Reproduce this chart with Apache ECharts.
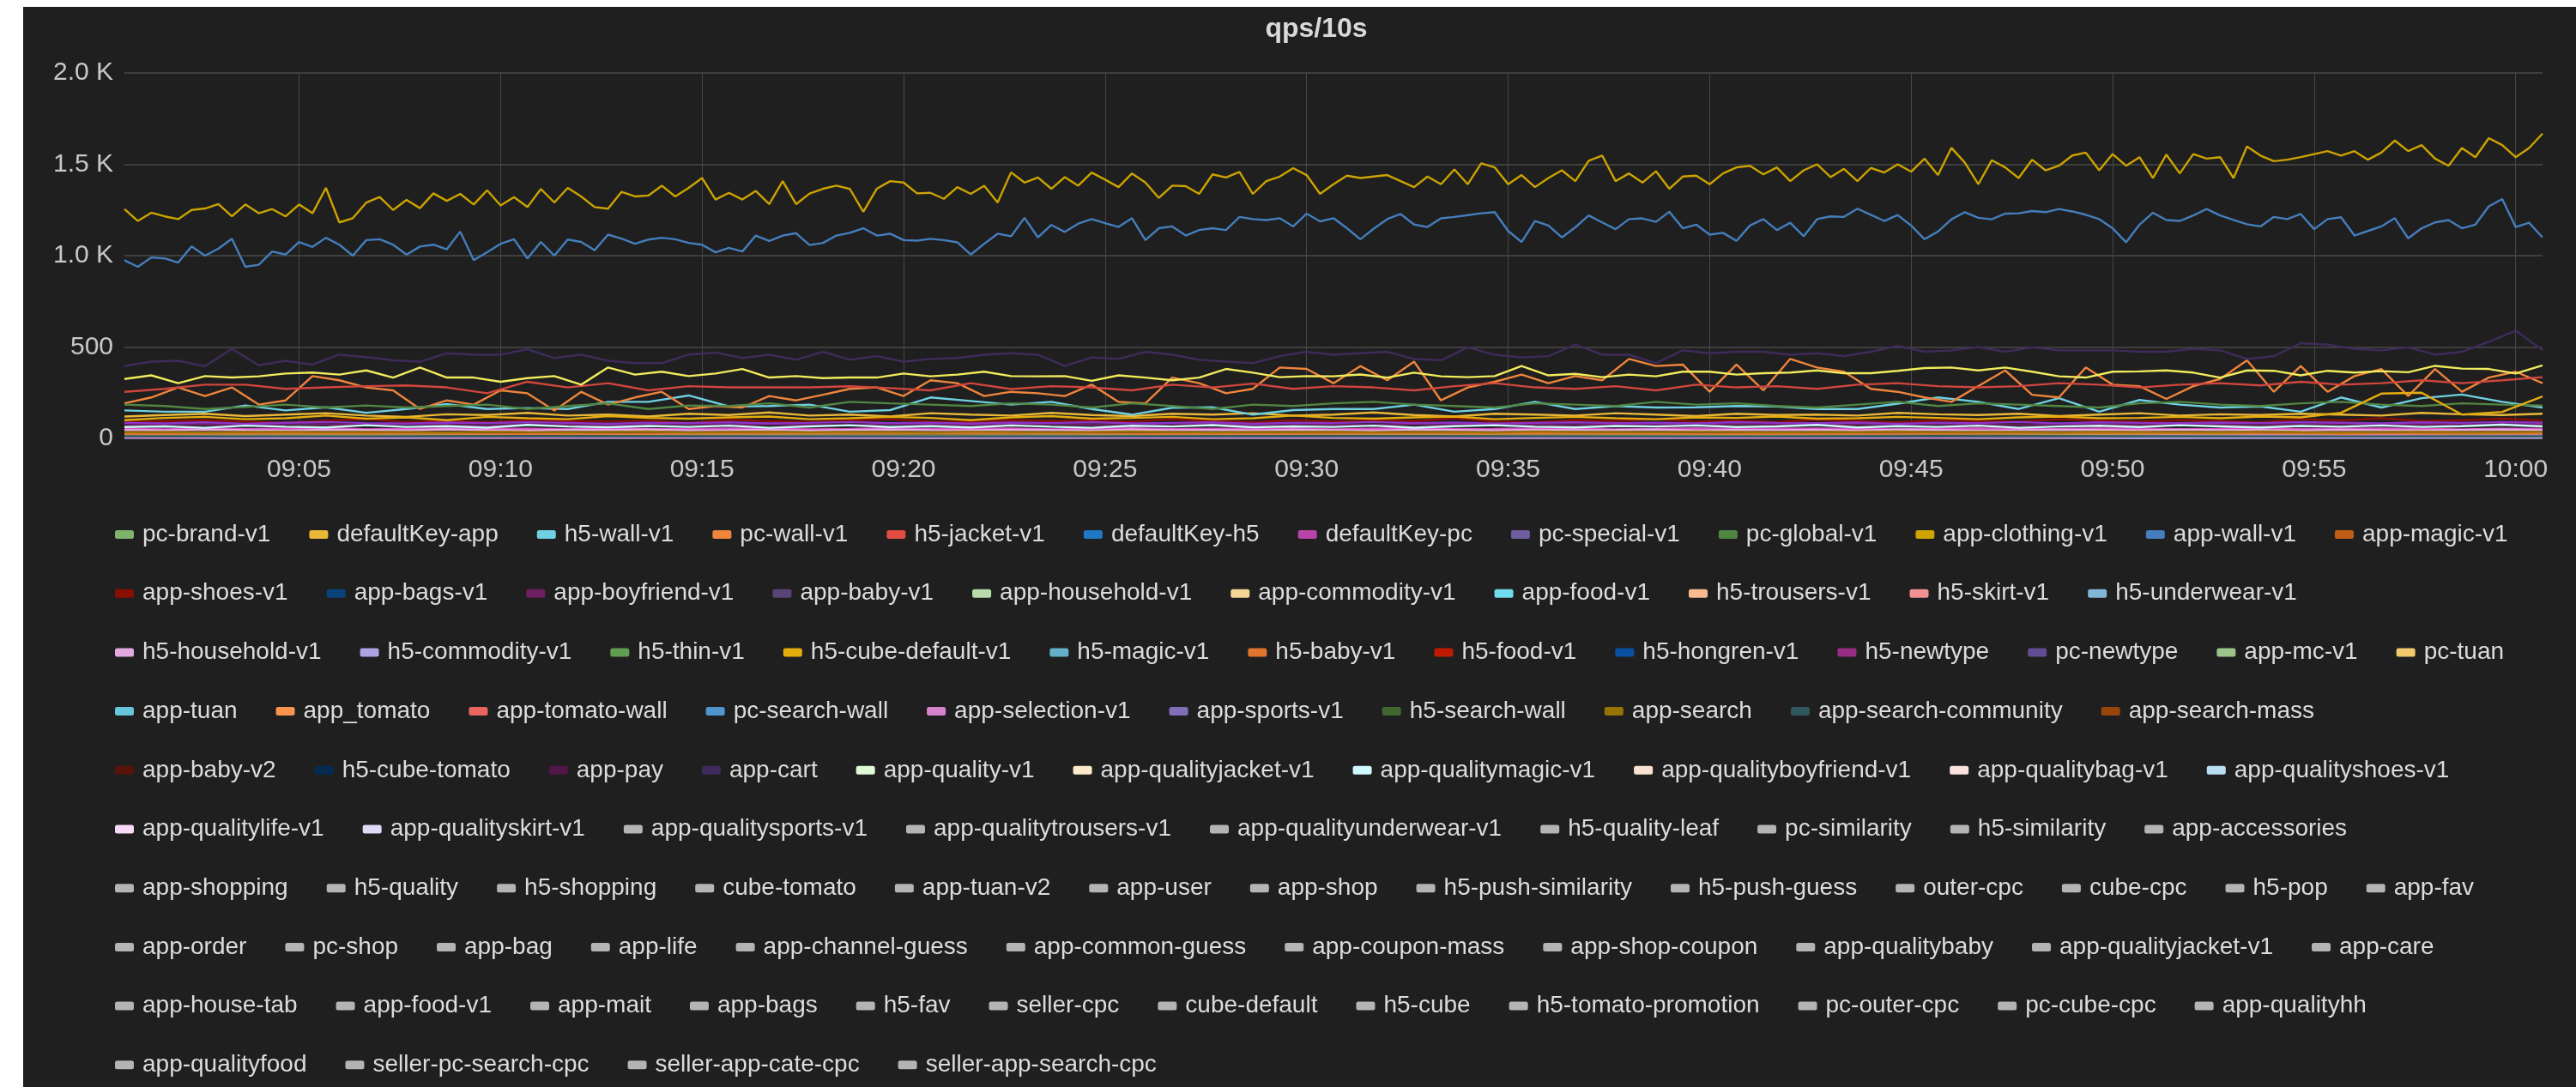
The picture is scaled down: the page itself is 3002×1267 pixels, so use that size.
<!DOCTYPE html>
<html>
<head>
<meta charset="utf-8">
<title>qps/10s</title>
<script src="https://cdn.jsdelivr.net/npm/echarts@6/dist/echarts.min.js"></script>
<style>
  html, body { margin: 0; padding: 0; background: #ffffff; }
  #chart { width: 3002px; height: 1267px; }
</style>
</head>
<body>
<div id="chart"></div>
<script>
// time grid: one category every 20s, 09:00:40 .. 10:00:40
const startSec = 9 * 3600 + 40;
const stepSec = 20;
const pointCount = 181;
const times = [];
for (let i = 0; i < pointCount; i++) {
  const s = startSec + i * stepSec;
  const hh = String(Math.floor(s / 3600)).padStart(2, '0');
  const mm = String(Math.floor((s % 3600) / 60)).padStart(2, '0');
  const ss = String(s % 60).padStart(2, '0');
  times.push(`${hh}:${mm}:${ss}`);
}
const tickLabels = ['09:05', '09:10', '09:15', '09:20', '09:25', '09:30',
  '09:35', '09:40', '09:45', '09:50', '09:55', '10:00'];

// grafana palette, in legend order
const palette = [
  '#7EB26D', '#EAB839', '#6ED0E0', '#EF843C', '#E24D42', '#1F78C1', '#BA43A9', '#705DA0',
  '#508642', '#CCA300', '#447EBC', '#C15C17', '#890F02', '#0A437C', '#6D1F62', '#584477',
  '#B7DBAB', '#F4D598', '#70DBED', '#F9BA8F', '#F29191', '#82B5D8', '#E5A8E2', '#AEA2E0',
  '#629E51', '#E5AC0E', '#64B0C8', '#E0752D', '#BF1B00', '#0A50A1', '#962D82', '#614D93',
  '#9AC48A', '#F2C96D', '#65C5DB', '#F9934E', '#EA6460', '#5195CE', '#D683CE', '#806EB7',
  '#3F6833', '#967302', '#2F575E', '#99440A', '#58140C', '#052B51', '#511749', '#3F2B5B',
  '#E0F9D7', '#FCEACA', '#CFFAFF', '#F9E2D2', '#FCE2DE', '#BADFF4', '#F9D9F9', '#DEDAF7'
];
const greyIcon = '#b4b4b4';

const legendRows = [
  ['pc-brand-v1', 'defaultKey-app', 'h5-wall-v1', 'pc-wall-v1', 'h5-jacket-v1', 'defaultKey-h5', 'defaultKey-pc', 'pc-special-v1', 'pc-global-v1', 'app-clothing-v1', 'app-wall-v1', 'app-magic-v1'],
  ['app-shoes-v1', 'app-bags-v1', 'app-boyfriend-v1', 'app-baby-v1', 'app-household-v1', 'app-commodity-v1', 'app-food-v1', 'h5-trousers-v1', 'h5-skirt-v1', 'h5-underwear-v1'],
  ['h5-household-v1', 'h5-commodity-v1', 'h5-thin-v1', 'h5-cube-default-v1', 'h5-magic-v1', 'h5-baby-v1', 'h5-food-v1', 'h5-hongren-v1', 'h5-newtype', 'pc-newtype', 'app-mc-v1', 'pc-tuan'],
  ['app-tuan', 'app_tomato', 'app-tomato-wall', 'pc-search-wall', 'app-selection-v1', 'app-sports-v1', 'h5-search-wall', 'app-search', 'app-search-community', 'app-search-mass'],
  ['app-baby-v2', 'h5-cube-tomato', 'app-pay', 'app-cart', 'app-quality-v1', 'app-qualityjacket-v1', 'app-qualitymagic-v1', 'app-qualityboyfriend-v1', 'app-qualitybag-v1', 'app-qualityshoes-v1'],
  ['app-qualitylife-v1', 'app-qualityskirt-v1', 'app-qualitysports-v1', 'app-qualitytrousers-v1', 'app-qualityunderwear-v1', 'h5-quality-leaf', 'pc-similarity', 'h5-similarity', 'app-accessories'],
  ['app-shopping', 'h5-quality', 'h5-shopping', 'cube-tomato', 'app-tuan-v2', 'app-user', 'app-shop', 'h5-push-similarity', 'h5-push-guess', 'outer-cpc', 'cube-cpc', 'h5-pop', 'app-fav'],
  ['app-order', 'pc-shop', 'app-bag', 'app-life', 'app-channel-guess', 'app-common-guess', 'app-coupon-mass', 'app-shop-coupon', 'app-qualitybaby', 'app-qualityjacket-v1', 'app-care'],
  ['app-house-tab', 'app-food-v1', 'app-mait', 'app-bags', 'h5-fav', 'seller-cpc', 'cube-default', 'h5-cube', 'h5-tomato-promotion', 'pc-outer-cpc', 'pc-cube-cpc', 'app-qualityhh'],
  ['app-qualityfood', 'seller-pc-search-cpc', 'seller-app-cate-cpc', 'seller-app-search-cpc']
];

// every 20s
const appClothingV1 = [
  1255, 1190, 1235, 1215, 1200, 1250, 1258, 1282, 1215, 1280,
  1232, 1255, 1215, 1280, 1232, 1371, 1182, 1205, 1290, 1321,
  1250, 1305, 1260, 1341, 1300, 1338, 1280, 1358, 1275, 1320,
  1266, 1365, 1291, 1371, 1324, 1266, 1257, 1349, 1324, 1329,
  1383, 1324, 1371, 1425, 1307, 1344, 1307, 1354, 1282, 1408,
  1282, 1340, 1366, 1383, 1365, 1240, 1366, 1408, 1400, 1341,
  1344, 1311, 1375, 1338, 1383, 1291, 1456, 1400, 1428, 1366,
  1430, 1383, 1455, 1416, 1375, 1450, 1400, 1316, 1383, 1380,
  1338, 1445, 1428, 1458, 1338, 1408, 1433, 1479, 1441, 1338,
  1391, 1438, 1425, 1433, 1441, 1408, 1375, 1433, 1391, 1472,
  1391, 1505, 1483, 1391, 1441, 1375, 1425, 1467, 1408, 1519,
  1548, 1408, 1450, 1400, 1462, 1366, 1433, 1438, 1391, 1450,
  1483, 1492, 1445, 1483, 1408, 1467, 1500, 1430, 1475, 1408,
  1480, 1455, 1500, 1460, 1531, 1441, 1590, 1509, 1391, 1522,
  1483, 1425, 1525, 1467, 1492, 1548, 1564, 1467, 1556, 1492,
  1539, 1425, 1553, 1450, 1556, 1531, 1539, 1425, 1597, 1548,
  1517, 1525, 1539, 1556, 1572, 1548, 1572, 1525, 1564, 1630,
  1572, 1605, 1531, 1492, 1589, 1539, 1643, 1605, 1539, 1589,
  1668
];
const appWallV1 = [
  975, 939, 990, 985, 962, 1050, 1000, 1039, 1093, 939,
  950, 1023, 1006, 1075, 1048, 1098, 1060, 1000, 1085, 1090,
  1060, 1006, 1050, 1060, 1035, 1132, 975, 1019, 1065, 1090,
  985, 1075, 1000, 1088, 1075, 1030, 1115, 1093, 1065, 1088,
  1098, 1090, 1070, 1060, 1018, 1043, 1023, 1110, 1080, 1110,
  1123, 1058, 1070, 1110, 1125, 1150, 1110, 1120, 1085, 1082,
  1092, 1085, 1073, 1006, 1065, 1120, 1106, 1207, 1100, 1168,
  1130, 1175, 1200, 1178, 1157, 1205, 1085, 1150, 1160, 1110,
  1140, 1150, 1140, 1212, 1200, 1195, 1205, 1160, 1230, 1188,
  1205, 1150, 1090, 1148, 1200, 1228, 1170, 1157, 1204, 1212,
  1222, 1232, 1238, 1135, 1075, 1190, 1165, 1100, 1155, 1220,
  1182, 1145, 1200, 1204, 1185, 1240, 1150, 1170, 1115, 1125,
  1081, 1165, 1200, 1140, 1180, 1106, 1200, 1215, 1212, 1257,
  1224, 1190, 1222, 1165, 1090, 1132, 1199, 1238, 1207, 1199,
  1230, 1232, 1244, 1238, 1255, 1242, 1224, 1200, 1150, 1073,
  1170, 1235, 1195, 1190, 1220, 1255, 1220, 1195, 1172, 1160,
  1212, 1200, 1228, 1145, 1200, 1210, 1110, 1135, 1160, 1205,
  1095, 1150, 1182, 1195, 1150, 1170, 1270, 1310, 1157, 1180,
  1100
];

// every 40s
const appCart = [
  396, 420, 425, 395, 490, 400, 425, 404, 458, 445,
  427, 420, 466, 458, 458, 488, 440, 458, 425, 412,
  412, 458, 470, 440, 458, 430, 474, 430, 450, 420,
  435, 440, 458, 466, 458, 396, 443, 435, 474, 458,
  430, 420, 412, 450, 474, 458, 466, 474, 435, 427,
  498, 458, 443, 450, 513, 458, 458, 412, 482, 466,
  474, 474, 458, 466, 450, 474, 506, 474, 482, 500,
  474, 498, 482, 482, 482, 474, 474, 490, 482, 435,
  450, 521, 513, 490, 482, 498, 458, 474, 529, 590,
  482
];
const pcTuan = [
  325, 345, 302, 341, 333, 340, 355, 360, 349, 372,
  333, 388, 333, 333, 310, 330, 341, 294, 388, 349,
  365, 341, 355, 380, 333, 341, 330, 333, 333, 355,
  340, 349, 365, 341, 340, 341, 315, 345, 333, 318,
  333, 380, 360, 335, 341, 340, 350, 333, 360, 340,
  335, 341, 396, 345, 353, 335, 349, 340, 365, 365,
  349, 357, 360, 372, 357, 357, 370, 385, 388, 372,
  388, 365, 340, 333, 365, 367, 372, 360, 333, 372,
  370, 345, 370, 360, 368, 362, 397, 382, 380, 355,
  400
];
const pcWallV1 = [
  192, 224, 279, 232, 279, 185, 208, 341, 318, 279,
  263, 161, 208, 185, 263, 247, 153, 255, 185, 224,
  255, 161, 177, 169, 232, 208, 239, 271, 279, 232,
  318, 302, 232, 255, 247, 232, 294, 200, 192, 333,
  302, 247, 271, 388, 380, 302, 396, 318, 420, 208,
  279, 310, 349, 302, 341, 318, 435, 396, 404, 255,
  404, 263, 435, 388, 365, 271, 255, 224, 200, 286,
  372, 239, 224, 388, 294, 286, 216, 286, 325, 427,
  255, 396, 255, 341, 380, 232, 380, 255, 333, 365,
  302
];

// every 60s
const h5JacketV1 = [
  255, 271, 294, 294, 271, 279, 286, 290, 279, 247,
  310, 279, 302, 263, 286, 279, 279, 279, 285, 275,
  263, 302, 270, 286, 279, 263, 294, 279, 300, 271,
  286, 279, 263, 286, 302, 279, 271, 286, 263, 294,
  279, 286, 271, 294, 302, 286, 279, 286, 302, 294,
  279, 294, 302, 290, 310, 294, 302, 318, 302, 318,
  335
];
const pcGlobalV1 = [
  185, 177, 161, 172, 185, 169, 180, 169, 177, 185,
  161, 177, 192, 161, 180, 177, 192, 169, 200, 192,
  185, 177, 192, 185, 169, 192, 177, 161, 185, 177,
  192, 200, 185, 177, 169, 192, 185, 177, 200, 185,
  192, 177, 169, 185, 200, 177, 192, 185, 177, 169,
  192, 200, 185, 177, 192, 200, 185, 177, 192, 185,
  180
];
const h5WallV1 = [
  153, 146, 146, 180, 153, 170, 140, 161, 188, 161,
  166, 161, 200, 200, 235, 175, 177, 185, 146, 155,
  224, 205, 185, 200, 161, 130, 168, 170, 130, 155,
  161, 161, 185, 146, 161, 200, 161, 177, 169, 170,
  177, 175, 161, 161, 190, 224, 200, 161, 220, 146,
  210, 185, 169, 175, 146, 224, 169, 220, 240, 200,
  169
];
const defaultKeyApp = [
  120, 128, 135, 122, 130, 138, 125, 118, 132, 128,
  140, 125, 130, 120, 135, 128, 142, 125, 130, 120,
  138, 130, 125, 140, 128, 122, 135, 130, 138, 125,
  130, 142, 128, 120, 135, 130, 125, 138, 130, 122,
  135, 128, 130, 125, 140, 132, 128, 135, 122, 130,
  138, 125, 132, 128, 135, 130, 125, 140, 132, 128,
  135
];
const h5CubeDefaultV1 = [
  100, 112, 118, 105, 110, 125, 108, 115, 100, 118,
  110, 105, 122, 112, 108, 115, 120, 105, 110, 118,
  112, 100, 115, 122, 108, 112, 118, 105, 110, 125,
  112, 108, 115, 120, 105, 112, 118, 110, 105, 115,
  112, 120, 108, 110, 118, 112, 105, 115, 120, 110,
  112, 118, 110, 120, 115, 140, 245, 250, 130, 145,
  230
];
const appShoesV1 = [
  88, 95, 100, 92, 85, 98, 105, 90, 95, 88,
  100, 95, 92, 98, 85, 102, 95, 90, 98, 105,
  92, 88, 100, 95, 98, 92, 105, 95, 88, 100,
  92, 98, 95, 110, 92, 88, 100, 95, 105, 92,
  98, 90, 102, 95, 88, 100, 95, 92, 105, 98,
  92, 100, 95, 88, 105, 98, 110, 95, 100, 108,
  98
];
const appBoyfriendV1 = [
  72, 78, 75, 70, 80, 76, 72, 79, 74, 70,
  78, 75, 72, 80, 76, 73, 78, 74, 71, 79,
  75, 72, 77, 80, 74, 71, 78, 76, 73, 79,
  75, 72, 78, 74, 80, 76, 72, 78, 75, 71,
  79, 76, 73, 78, 74, 80, 75, 72, 78, 76,
  73, 79, 75, 72, 78, 80, 74, 77, 73, 79,
  76
];
const h5Newtype = [
  85, 82, 88, 80, 86, 90, 84, 81, 87, 83,
  89, 85, 80, 86, 84, 88, 82, 85, 90, 83,
  86, 81, 87, 84, 89, 82, 85, 88, 80, 86,
  84, 90, 83, 87, 81, 85, 88, 84, 86, 82,
  89, 85, 83, 87, 80, 86, 84, 90, 82, 88,
  85, 83, 87, 84, 89, 86, 82, 88, 85, 90,
  86
];
const appQualitymagicV1 = [
  62, 66, 58, 70, 64, 60, 72, 63, 67, 59,
  74, 65, 61, 68, 63, 70, 58, 66, 72, 62,
  67, 60, 71, 64, 58, 69, 65, 73, 61, 66,
  63, 70, 59, 67, 72, 64, 60, 68, 65, 71,
  62, 66, 74, 60, 67, 63, 70, 58, 65, 69,
  62, 72, 66, 60, 68, 64, 71, 63, 67, 75,
  66
];
const defaultKeyPc = [
  52, 50, 54, 51, 53, 55, 50, 52, 54, 51,
  53, 50, 55, 52, 51, 54, 53, 50, 52, 55,
  51, 53, 54, 50, 52, 55, 51, 53, 52, 54,
  50, 53, 55, 51, 52, 54, 53, 50, 52, 55,
  51, 53, 54, 52, 50, 53, 55, 51, 52, 54,
  53, 50, 52, 55, 51, 53, 54, 52, 50, 53,
  52
];
const h5HouseholdV1 = [
  46, 44, 48, 45, 43, 47, 46, 44, 49, 45,
  43, 47, 46, 48, 44, 45, 47, 43, 46, 48,
  45, 44, 47, 46, 43, 48, 45, 46, 44, 47,
  45, 43, 48, 46, 44, 47, 45, 46, 48, 44,
  46, 45, 47, 43, 48, 46, 44, 45, 47, 46,
  44, 48, 45, 46, 43, 47, 45, 44, 46, 48,
  45
];
const appSearch = [
  34, 36, 33, 35, 37, 34, 36, 35, 33, 37,
  35, 34, 36, 38, 33, 35, 37, 34, 36, 35,
  33, 37, 35, 34, 36, 38, 35, 33, 36, 35,
  37, 34, 36, 35, 33, 38, 35, 36, 34, 37,
  35, 33, 36, 35, 38, 34, 36, 35, 33, 37,
  35, 36, 34, 38, 35, 33, 36, 37, 34, 35,
  36
];
const appSelectionV1 = [
  6, 7, 6, 8, 7, 6, 7, 8, 6, 7,
  6, 8, 7, 6, 7, 8, 6, 7, 6, 8,
  7, 6, 7, 8, 6, 7, 6, 8, 7, 6,
  7, 8, 6, 7, 6, 8, 7, 6, 7, 8,
  6, 7, 6, 8, 7, 6, 7, 8, 6, 12,
  13, 14, 13, 15, 14, 13, 15, 14, 13, 14,
  15
];

// every 5 min
const h5BabyV1 = [25, 27, 24, 26, 28, 25, 26, 27, 24, 26, 28, 25, 27];
const pcBrandV1 = [18, 17, 19, 18, 16, 18, 19, 17, 18, 16, 19, 18, 17];
const appSearchCommunity = [12, 11, 13, 12, 11, 12, 13, 12, 11, 13, 12, 11, 12];
const h5UnderwearV1 = [6, 5, 6, 7, 5, 6, 5, 6, 7, 6, 5, 6, 6];
const h5CommodityV1 = [3, 2, 3, 3, 2, 3, 3, 2, 3, 3, 2, 3, 3];

// step = how many 20s categories between two values
const lineData = {
  'pc-brand-v1': { step: 15, values: pcBrandV1 },
  'defaultKey-app': { step: 3, values: defaultKeyApp },
  'h5-wall-v1': { step: 3, values: h5WallV1 },
  'pc-wall-v1': { step: 2, values: pcWallV1 },
  'h5-jacket-v1': { step: 3, values: h5JacketV1, color: '#D0463E' },
  'defaultKey-pc': { step: 3, values: defaultKeyPc, color: '#D64FC4' },
  'pc-global-v1': { step: 3, values: pcGlobalV1 },
  'app-clothing-v1': { step: 1, values: appClothingV1 },
  'app-wall-v1': { step: 1, values: appWallV1 },
  'app-shoes-v1': { step: 3, values: appShoesV1 },
  'app-boyfriend-v1': { step: 3, values: appBoyfriendV1 },
  'h5-underwear-v1': { step: 15, values: h5UnderwearV1 },
  'h5-household-v1': { step: 3, values: h5HouseholdV1 },
  'h5-commodity-v1': { step: 15, values: h5CommodityV1 },
  'h5-cube-default-v1': { step: 3, values: h5CubeDefaultV1 },
  'h5-baby-v1': { step: 15, values: h5BabyV1 },
  'h5-newtype': { step: 3, values: h5Newtype, color: '#8E34C8' },
  'pc-tuan': { step: 2, values: pcTuan, color: '#F1EB5C' },
  'app-selection-v1': { step: 3, values: appSelectionV1 },
  'app-search': { step: 3, values: appSearch },
  'app-search-community': { step: 15, values: appSearchCommunity },
  'app-cart': { step: 2, values: appCart },
  'app-qualitymagic-v1': { step: 3, values: appQualitymagicV1 }
};

const fontFamily = "'Liberation Sans', Arial, sans-serif";

// legend icon colour per position
const legendColor = {};
let pos = 0;
const legendComponents = legendRows.map((row, r) => {
  const items = row.map((name) => {
    const color = pos < palette.length ? palette[pos] : greyIcon;
    pos++;
    if (!(name in legendColor)) legendColor[name] = color;
    return { name, itemStyle: { color } };
  });
  return {
    left: 134,
    top: 623 + r * 68.7 - 14,
    padding: 0,
    itemGap: 45,
    itemWidth: 22,
    itemHeight: 10,
    icon: 'roundRect',
    selectedMode: false,
    itemStyle: { borderWidth: 0 },
    textStyle: { color: '#dcdcdc', fontSize: 28, fontFamily, padding: [0, 0, 0, 5] },
    data: items
  };
});

const series = Object.keys(legendColor).map((name) => {
  const d = lineData[name];
  return {
    name,
    type: 'line',
    showSymbol: false,
    symbol: 'none',
    silent: true,
    color: d && d.color ? d.color : legendColor[name],
    lineStyle: { width: 2.4 },
    data: d ? d.values.map((v, k) => [k * d.step, v]) : []
  };
});

const isTick = (index, value) => value.endsWith(':00') && tickLabels.includes(value.slice(0, 5));

const chart = echarts.init(document.getElementById('chart'));
chart.setOption({
  backgroundColor: '#1f1f1f',
  animation: false,
  title: {
    text: 'qps/10s',
    left: 1534,
    top: 18,
    padding: 0,
    textAlign: 'center',
    textStyle: { color: '#d8d9da', fontSize: 32, fontWeight: 'bold', fontFamily }
  },
  graphic: [
    { type: 'rect', shape: { x: 0, y: 0, width: 27, height: 1267 }, style: { fill: '#ffffff' } },
    { type: 'rect', shape: { x: 0, y: 0, width: 3002, height: 8 }, style: { fill: '#ffffff' } }
  ],
  grid: { left: 145, right: 39, top: 85, height: 426 },
  xAxis: {
    type: 'category',
    data: times,
    boundaryGap: false,
    axisLine: { show: false },
    axisTick: { show: false },
    axisLabel: {
      interval: isTick,
      formatter: (v) => v.slice(0, 5),
      color: '#c8c8c8',
      fontSize: 30,
      fontFamily,
      margin: 22
    },
    splitLine: { show: true, interval: isTick, lineStyle: { color: '#474747', width: 1 } }
  },
  yAxis: {
    type: 'value',
    min: 0,
    max: 2000,
    interval: 500,
    axisLine: { show: false },
    axisTick: { show: false },
    axisLabel: {
      formatter: (v) => (v >= 1000 ? (v / 1000).toFixed(1) + ' K' : String(v)),
      color: '#c8c8c8',
      fontSize: 30,
      fontFamily,
      margin: 13,
      showMinLabel: true,
      showMaxLabel: true
    },
    splitLine: { lineStyle: { color: '#3e3e3e', width: 2 } }
  },
  legend: legendComponents,
  series
});
</script>
</body>
</html>
